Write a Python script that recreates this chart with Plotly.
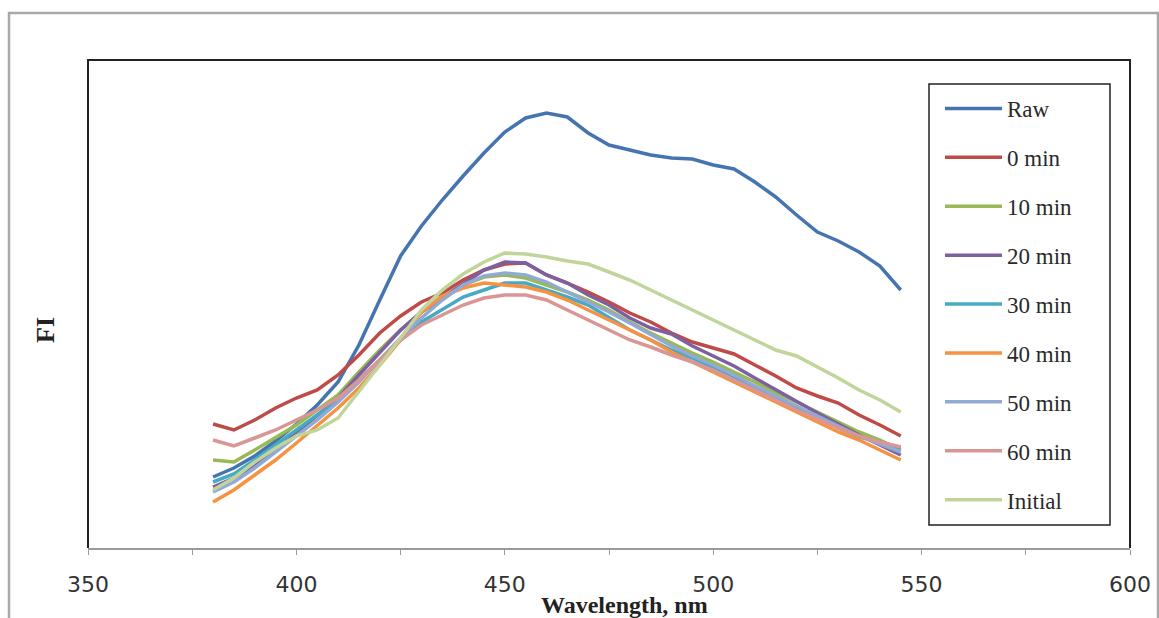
import plotly.graph_objects as go

wavelength = list(range(380, 550, 5))

raw = [71, 80, 92, 107, 124, 143, 166, 203, 248, 292, 322, 348, 372, 395, 416, 430, 435, 431,
       415, 403, 398, 393, 390, 389, 383, 379, 366, 351, 333, 316, 307, 296, 282, 258]
min0 = [124, 118, 128, 140, 150, 158, 173, 193, 215, 232, 246, 255, 268, 278, 284, 285, 273, 265,
        256, 246, 235, 226, 215, 206, 200, 194, 183, 172, 160, 152, 145, 133, 123, 112]
min10 = [88, 86, 98, 110, 123, 138, 153, 176, 198, 218, 236, 251, 263, 271, 273, 270, 263, 256,
         248, 238, 226, 215, 205, 195, 186, 176, 166, 155, 146, 136, 126, 116, 108, 98]
min20 = [61, 70, 83, 98, 115, 133, 150, 173, 196, 218, 236, 250, 265, 278, 286, 285, 273, 265,
         253, 243, 230, 220, 214, 202, 192, 182, 170, 158, 146, 135, 124, 113, 103, 93]
min30 = [66, 74, 88, 103, 118, 133, 148, 168, 188, 208, 226, 238, 251, 258, 265, 265, 258, 251,
         243, 230, 218, 208, 198, 190, 180, 170, 160, 150, 140, 130, 120, 111, 106, 100]
min40 = [46, 58, 73, 88, 105, 123, 140, 160, 183, 208, 236, 252, 260, 265, 263, 261, 256, 248,
         238, 228, 218, 208, 196, 186, 176, 166, 156, 146, 136, 126, 116, 108, 98, 88]
min50 = [56, 66, 80, 96, 111, 128, 146, 166, 188, 210, 230, 248, 263, 272, 275, 273, 266, 256,
         246, 236, 225, 213, 202, 192, 183, 173, 162, 152, 142, 132, 122, 112, 104, 96]
min60 = [108, 102, 110, 118, 128, 138, 150, 168, 188, 208, 223, 233, 243, 250, 253, 253, 248, 238,
         228, 218, 208, 201, 193, 186, 178, 168, 158, 148, 138, 129, 120, 112, 106, 101]
initial = [58, 70, 86, 100, 112, 118, 130, 156, 183, 210, 238, 258, 274, 286, 295, 294, 291, 287,
           284, 276, 268, 258, 248, 238, 228, 218, 208, 198, 192, 181, 170, 158, 148, 136]

series_names = ["Raw", "0 min", "10 min", "20 min", "30 min", "40 min", "50 min", "60 min", "Initial"]
series_values = [raw, min0, min10, min20, min30, min40, min50, min60, initial]
series_colors = ["#4674B0", "#BE4B48", "#98B954", "#7D60A0", "#46AAC5", "#F69240",
                 "#92A9D4", "#D99694", "#C0D59A"]

x_ticks = [350, 400, 450, 500, 550, 600]

fig = go.Figure()
for name, vals, col in zip(series_names, series_values, series_colors):
    fig.add_trace(go.Scatter(x=wavelength, y=vals, name=name, mode="lines",
                             legendgroup=name,
                             line=dict(color=col, width=3.5)))

W, H = 1159, 618
L, R, T, B = 88, 1130, 60, 548
pw, ph = R - L, B - T

def px(xp):
    return (xp - L) / pw

def py(yp):
    return (B - yp) / ph

fig.update_layout(
    width=W, height=H,
    margin=dict(l=L, r=W - R, t=T, b=H - B, autoexpand=False),
    paper_bgcolor="white", plot_bgcolor="white",
    showlegend=True,
    legend=dict(x=px(940), y=py(87), xanchor="left", yanchor="top",
                borderwidth=0, bgcolor="rgba(0,0,0,0)",
                font=dict(family="Liberation Serif", size=23, color="#2a2a2a"),
                itemwidth=57, tracegroupgap=16, traceorder="grouped"),
    xaxis=dict(range=[350, 600], tickvals=x_ticks, ticks="outside", ticklen=5,
               tickcolor="#9a9a9a", showline=True, linecolor="#9a9a9a", linewidth=1.5,
               showgrid=False, zeroline=False, ticklabelstandoff=11, automargin=False,
               tickfont=dict(family="DejaVu Sans", size=22, color="#333333"),
               minor=dict(tickvals=[375, 425, 475, 525, 575], ticks="outside", ticklen=5,
                          tickcolor="#9a9a9a")),
    yaxis=dict(range=[0, 488], showticklabels=False, ticks="", showgrid=False,
               zeroline=False, showline=False, automargin=False),
    shapes=[
        dict(type="path", xref="paper", yref="paper",
             path=f"M 0 0 L 0 1 L 1 1 L 1 0",
             line=dict(color="#222222", width=2)),
        dict(type="rect", xref="paper", yref="paper",
             x0=px(9), y0=py(13), x1=px(1158), y1=py(640),
             line=dict(color="#a8a8a8", width=2.5)),
        dict(type="rect", xref="paper", yref="paper", layer="below",
             x0=px(929), y0=py(84), x1=px(1110), y1=py(525),
             fillcolor="white", line=dict(color="#222222", width=1.5)),
    ],
    annotations=[
        dict(text="<b>Wavelength, nm</b>", xref="paper", yref="paper",
             x=px(624), y=py(605), xanchor="center", yanchor="middle", showarrow=False,
             font=dict(family="Liberation Serif", size=24, color="#222222")),
        dict(text="<b>FI</b>", xref="paper", yref="paper", textangle=-90,
             x=px(45), y=py(330), xanchor="center", yanchor="middle", showarrow=False,
             font=dict(family="Liberation Serif", size=26, color="#222222")),
    ],
)

fig.write_html("out.html")
